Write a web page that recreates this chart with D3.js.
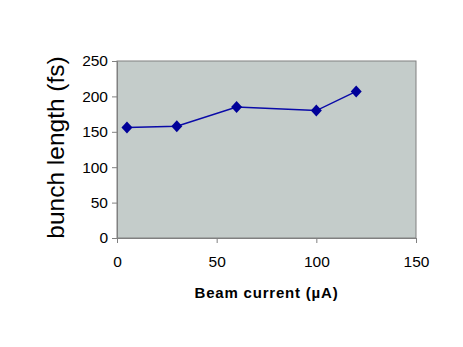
<!DOCTYPE html>
<html>
<head>
<meta charset="utf-8">
<script src="https://cdn.jsdelivr.net/npm/d3@7"></script>
<style>
  body { margin: 0; background: #fff; }
  text { font-family: "Liberation Sans", Arial, sans-serif; fill: #000; }
</style>
</head>
<body>
<div id="chart"></div>
<script>
// beam current (uA) vs bunch length (fs)
var current = [5, 30, 60, 100, 120];
var bunchLength = [156, 158, 185, 180, 207];
var xTicks = [0, 50, 100, 150];
var yTicks = [0, 50, 100, 150, 200, 250];

var width = 463, height = 347;
var margin = {left: 117, right: 47, top: 61, bottom: 109};

var svg = d3.select("#chart")
	.append("svg")
	.attr("width", width)
	.attr("height", height);

var x = d3.scaleLinear().domain([0, 150]).range([margin.left, width - margin.right]);
var y = d3.scaleLinear().domain([0, 250]).range([height - margin.bottom, margin.top]);

// plot area
svg.append("rect")
	.attr("x", x(0))
	.attr("y", y(250))
	.attr("width", x(150) - x(0))
	.attr("height", y(0) - y(250))
	.style("fill", "#c4ccca")
	.style("stroke", "#808080")
	.style("stroke-width", 1);

// y axis
var yAxis = svg.append("g")
	.attr("transform", "translate(" + x(0) + ",0)")
	.call(d3.axisLeft(y).tickValues(yTicks).tickSize(5).tickPadding(4));
yAxis.selectAll("text").style("font-size", "15.5px").attr("font-family", null);

// x axis
var xAxis = svg.append("g")
	.attr("transform", "translate(0," + y(0) + ")")
	.call(d3.axisBottom(x).tickValues(xTicks).tickSize(5).tickPadding(13));
xAxis.selectAll("text").style("font-size", "15.5px").attr("font-family", null);

svg.selectAll(".domain").style("stroke", "#808080");
svg.selectAll(".tick line").style("stroke", "#808080");

// line
var data = current.map(function(d, i) { return {x: d, y: bunchLength[i]}; });
svg.append("path")
	.datum(data)
	.attr("d", d3.line().x(function(d) { return x(d.x); }).y(function(d) { return y(d.y); }))
	.style("fill", "none")
	.style("stroke", "#0a0aa8")
	.style("stroke-width", 1.5);

// diamond markers
svg.selectAll(".pt")
	.data(data)
	.enter().append("path")
	.attr("class", "pt")
	.attr("transform", function(d) { return "translate(" + x(d.x) + "," + y(d.y) + ")"; })
	.attr("d", "M0,-6L5.5,0L0,6L-5.5,0Z")
	.style("fill", "#000099");

// axis titles
svg.append("text")
	.attr("x", (x(0) + x(150)) / 2)
	.attr("y", 298)
	.attr("text-anchor", "middle")
	.style("font-size", "15px")
	.style("font-weight", "bold")
	.style("letter-spacing", "0.8px")
	.text("Beam current (\u00b5A)");

svg.append("text")
	.attr("transform", "translate(64," + ((y(0) + y(250)) / 2 - 2) + ") rotate(-90)")
	.attr("text-anchor", "middle")
	.style("font-size", "24.5px")
	.text("bunch length (fs)");
</script>
</body>
</html>
